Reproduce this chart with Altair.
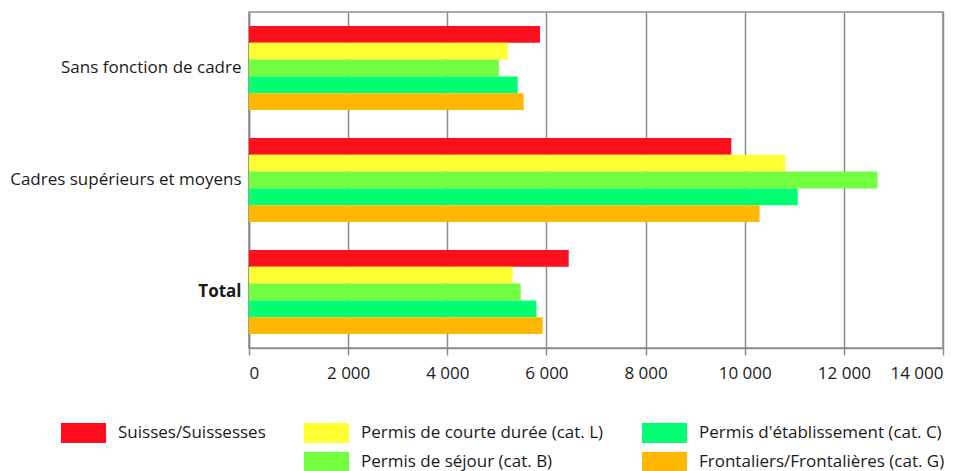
import altair as alt
import pandas as pd

categories = ["Sans fonction de cadre", "Cadres supérieurs et moyens", "Total"]
series = [
    "Suisses/Suissesses",
    "Permis de courte durée (cat. L)",
    "Permis de séjour (cat. B)",
    "Permis d'établissement (cat. C)",
    "Frontaliers/Frontalières (cat. G)",
]
colors = ["#FF0F1E", "#FFFF33", "#73FF40", "#00FF73", "#FFB700"]

suisses = [5870, 9730, 6450]
courte = [5220, 10820, 5320]
sejour = [5040, 12680, 5480]
etablissement = [5420, 11070, 5800]
frontaliers = [5540, 10300, 5925]

values = [suisses, courte, sejour, etablissement, frontaliers]

rows = []
for s, vals in zip(series, values):
    for c, v in zip(categories, vals):
        rows.append({"cat": c, "serie": s, "val": v})
df = pd.DataFrame(rows)

# legend is filled column by column (3 columns, 2 rows) with one blank slot
blank = " "
legend_domain = [series[0], blank, series[1], series[2], series[3], series[4]]
legend_range = [colors[0], "rgba(0,0,0,0)", colors[1], colors[2], colors[3], colors[4]]

FONT = "Open Sans"
GRID = "#8c8c8c"
TXT = "#1a1a1a"

chart = alt.Chart(df).mark_bar().encode(
    y=alt.Y(
        "cat:N",
        sort=categories,
        title=None,
        scale=alt.Scale(paddingInner=0.25, paddingOuter=0.125),
        axis=alt.Axis(
            ticks=False,
            labelPadding=8,
            labelFont=FONT,
            labelFontSize=17,
            labelColor=TXT,
            labelFontWeight={"condition": {"test": "datum.value == 'Total'", "value": "bold"}, "value": "normal"},
            domainColor=GRID,
            domainWidth=1.5,
            grid=False,
            labelLimit=400,
        ),
    ),
    yOffset=alt.YOffset("serie:N", sort=series, scale=alt.Scale(paddingInner=0, paddingOuter=0)),
    x=alt.X(
        "val:Q",
        title=None,
        scale=alt.Scale(domain=[0, 14000], nice=False),
        axis=alt.Axis(
            values=list(range(0, 14001, 2000)),
            labelExpr="replace(format(datum.value, ','), ',', ' ')",
            labelFont=FONT,
            labelFontSize=17,
            labelColor=TXT,
            labelPadding=10,
            tickSize=7,
            tickColor=GRID,
            tickWidth=1.5,
            domainColor=GRID,
            domainWidth=1.5,
            gridColor=GRID,
            gridWidth=1.5,
        ),
    ),
    color=alt.Color(
        "serie:N",
        scale=alt.Scale(domain=legend_domain, range=legend_range),
        legend=alt.Legend(
            title=None,
            orient="none",
            legendX=-188,
            legendY=409,
            columns=3,
            columnPadding=38,
            rowPadding=5,
            clipHeight=24,
            symbolType="M-1,-0.44H1V0.44H-1Z",
            symbolSize=2025,
            symbolStrokeWidth=0,
            symbolOpacity=1,
            labelOffset=12,
            labelFont=FONT,
            labelFontSize=17,
            labelColor=TXT,
            labelLimit=400,
        ),
    ),
).properties(
    width=694,
    height=336,
    padding={"top": 4, "left": 1, "right": 5, "bottom": 5},
).configure_view(
    stroke=GRID,
    strokeWidth=1.5,
)

chart.save("out.html", embed_options={"renderer": "svg", "actions": False})
